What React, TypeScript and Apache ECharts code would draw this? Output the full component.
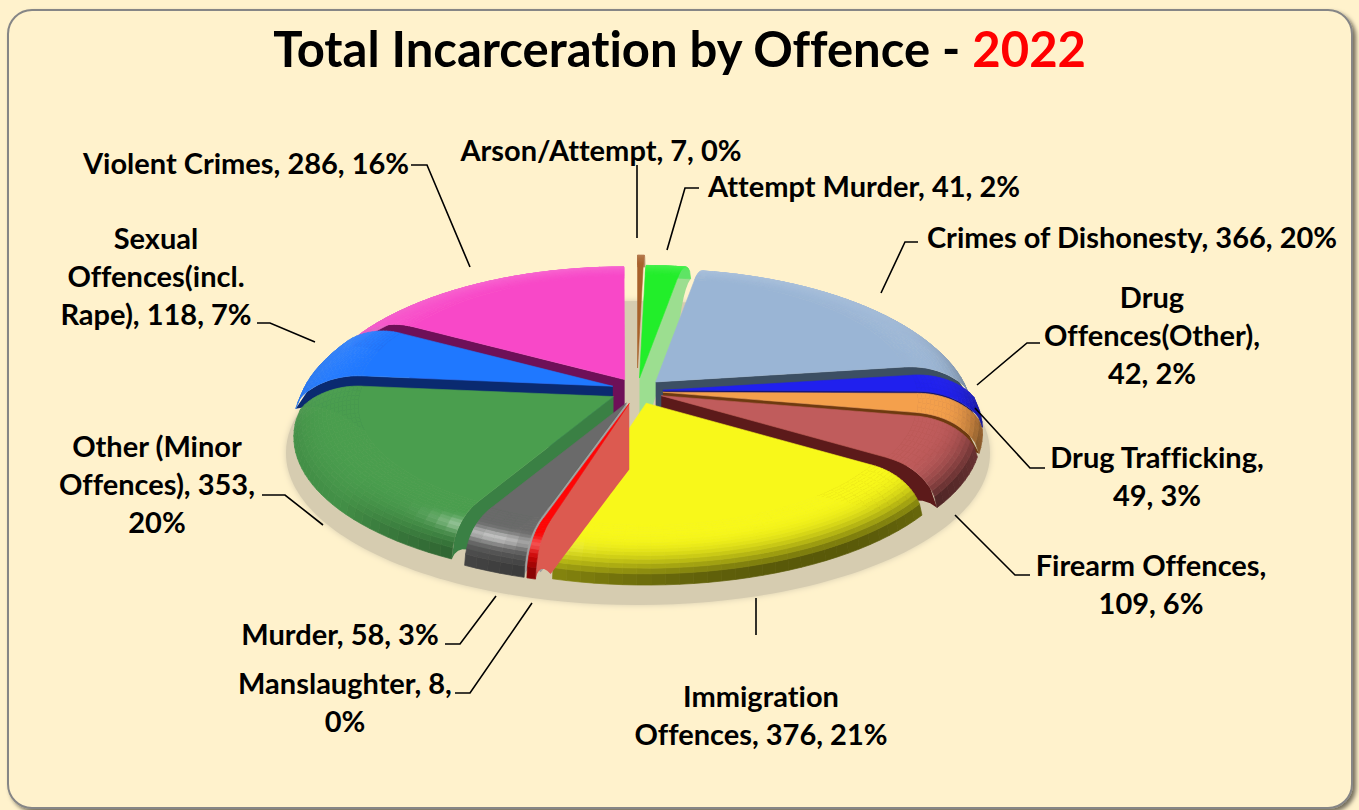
import React, { useEffect, useRef } from "react";
import * as echarts from "echarts";

const categories = ["Arson/Attempt", "Attempt Murder", "Crimes of Dishonesty", "Drug Offences(Other)", "Drug Trafficking", "Firearm Offences", "Immigration Offences", "Manslaughter", "Murder", "Other (Minor Offences)", "Sexual Offences(incl. Rape)", "Violent Crimes"];
const values = [7, 41, 366, 42, 49, 109, 376, 8, 58, 353, 118, 286];
const percents = [0, 2, 20, 2, 3, 6, 21, 0, 3, 20, 7, 16];
const labelBreaks = [
  "Arson/Attempt, 7, 0%",
  "Attempt Murder, 41, 2%",
  "Crimes of Dishonesty, 366, 20%",
  "Drug\nOffences(Other),\n42, 2%",
  "Drug Trafficking,\n49, 3%",
  "Firearm Offences,\n109, 6%",
  "Immigration\nOffences, 376, 21%",
  "Manslaughter, 8,\n0%",
  "Murder, 58, 3%",
  "Other (Minor\nOffences), 353,\n20%",
  "Sexual\nOffences(incl.\nRape), 118, 7%",
  "Violent Crimes, 286, 16%",
];
const topColors = ["#A8622C", "#22EE2A", "#9AB5D5", "#2020EE", "#F4A04C", "#C05C5C", "#F8F81A", "#FF0505", "#6A6A6A", "#4A9E4E", "#1F78FF", "#F848C8"];
const wallColors = ["#8A5024", "#9CDE90", "#3C4F63", "#14146E", "#6E3A10", "#5C1A1A", "#8A8A10", "#DC5A50", "#A0A0A0", "#3A8044", "#0A2A70", "#6E1058"];
const paintOrder = [0, 1, 2, 11, 10, 3, 4, 5, 6, 9, 8, 7];

// layout of the texts and leaders (x, first-line centre y; leader points)
const labelLayout: any[] = [
  { x: 601, y: 149, pts: [[637, 165], [637, 238]] },
  { x: 864, y: 185, pts: [[699, 188], [685, 188], [667, 250]] },
  { x: 1132, y: 236, pts: [[918, 242], [905, 242], [881, 293]] },
  { x: 1152, y: 296, pts: [[1040, 343], [1027, 343], [977, 385]] },
  { x: 1157, y: 456, pts: [[1045, 468], [1030, 468], [975, 408]] },
  { x: 1151, y: 564, pts: [[1030, 575], [1015, 575], [955, 515]] },
  { x: 761, y: 695, pts: [[756, 635], [756, 598]] },
  { x: 345, y: 682, pts: [[455, 693], [470, 693], [532, 603]] },
  { x: 340, y: 633, pts: [[445, 644], [460, 644], [496, 596]] },
  { x: 157, y: 445, pts: [[262, 495], [285, 495], [323, 525]] },
  { x: 156, y: 237, pts: [[257, 323], [270, 323], [315, 342]] },
  { x: 246, y: 162, pts: [[411, 165], [427, 165], [470, 267]] },
];

const CX = 637, CY = 417, RX = 318, RY = 140, PERSP = 0.102, H = 26, BEVEL = 0.8, EXPLODE = 26, RIM_BEND = 4;
const total = values.reduce((a, b) => a + b, 0);
const rad = (d: number) => (d * Math.PI) / 180;

function hex(c: string) {
  return [parseInt(c.slice(1, 3), 16), parseInt(c.slice(3, 5), 16), parseInt(c.slice(5, 7), 16)];
}
function shade(c: string, dark: number, light: number) {
  const d = Math.max(0, Math.min(1, dark));
  const l = Math.max(0, Math.min(1, light));
  const a = hex(c).map((v) => v * (1 - d)).map((v) => v + (255 - v) * l);
  return `rgb(${a.map((v) => Math.round(v)).join(",")})`;
}
function heightTop(r: number) {
  if (r <= BEVEL) return H;
  const t = (r - BEVEL) / (1 - BEVEL);
  return H * Math.sqrt(Math.max(0, 1 - t * t));
}
function heightBottom(r: number) {
  if (r <= BEVEL) return -40 + 15 * r;
  const t = (1 - r) / (1 - BEVEL);
  return -28 * t * t;
}
// the drawn pie is turned a little on its left side, and its cut edges bend to the front at the rim
function warp(deg: number, r: number) {
  const t = r <= BEVEL ? 0 : Math.pow((r - BEVEL) / (1 - BEVEL), 2);
  return deg - 4.5 * Math.exp(-Math.pow((deg - 285) / 40, 2)) + RIM_BEND * t * Math.sin(rad(deg));
}

function point(deg: number, r: number, h: number, mid: number, e: number) {
  const w = warp(deg, r);
  const X = Math.sin(rad(w)), Y = Math.cos(rad(w));
  const s = 1 / (1 + PERSP * Y * r);
  return [
    CX + RX * r * X * s + e * Math.sin(rad(mid)),
    CY - RY * r * Y * s - h - 0.5 * e * Math.cos(rad(mid)),
  ];
}

function sliceChildren(index: number, value: number) {
  let start = 0;
  for (let i = 0; i < index; i++) start += (values[i] / total) * 360;
  const span = (value / total) * 360;
  const end = start + span;
  const mid = start + span / 2;
  const e = span < 1.45 ? 46 : EXPLODE;
  const base = topColors[index];
  const children: any[] = [];

  // cut wall facing the viewer
  const wallDeg = mid < 150 ? (span > 2 ? end : -1) : mid < 190 ? -1 : start;
  if (wallDeg >= 0) {
    const up: number[][] = [], down: number[][] = [];
    for (let k = 0; k <= 30; k++) {
      const r = k / 30;
      up.push(point(wallDeg, r, heightTop(r), mid, e));
      down.unshift(point(wallDeg, r, heightBottom(r), mid, e));
    }
    children.push({ type: "polygon", shape: { points: up.concat(down) }, style: { fill: wallColors[index] } });
  }

  // rounded outer edge, from the rim inward
  const bands = 16;
  const steps = Math.max(1, Math.ceil(span / 2.5));
  for (let j = bands - 1; j >= 0; j--) {
    const r0 = BEVEL + ((1 - BEVEL) * j) / bands;
    const r1 = BEVEL + ((1 - BEVEL) * (j + 1)) / bands;
    const phi = (j + 0.5) / bands;
    for (let s = 0; s < steps; s++) {
      const d0 = start + (span * s) / steps;
      const d1 = start + (span * (s + 1)) / steps;
      const dm = (d0 + d1) / 2;
      const front = -Math.cos(rad(dm));
      const right = Math.sin(rad(dm));
      const dark = Math.pow(phi, 4) * (0.1 + 0.72 * Math.max(0, front * 0.75 + right * 0.45));
      const light = phi * 0.3 * Math.max(0, Math.cos(rad(dm)));
      const spec = 0.6 * Math.exp(-Math.pow((dm - 205) / 9, 2)) * Math.exp(-Math.pow((phi - 0.6) / 0.13, 2));
      const col = shade(base, dark, light + spec);
      children.push({
        type: "polygon",
        shape: {
          points: [
            point(d0, r0, heightTop(r0), mid, e),
            point(d0, r1, heightTop(r1), mid, e),
            point(d1, r1, heightTop(r1), mid, e),
            point(d1, r0, heightTop(r0), mid, e),
          ],
        },
        style: { fill: col, stroke: col, lineWidth: 0.7 },
      });
    }
  }

  // flat top
  const flat: number[][] = [point(mid, 0, H, mid, e)];
  for (let s = 0; s <= steps; s++) {
    flat.push(point(start + (span * s) / steps, BEVEL, H, mid, e));
  }
  children.push({ type: "polygon", shape: { points: flat }, style: { fill: base, stroke: base, lineWidth: 0.6 } });
  return children;
}

export default function App() {
  const ref = useRef<HTMLDivElement>(null);
  useEffect(() => {
    document.body.style.margin = "0";
    const chart = echarts.init(ref.current!, null, { renderer: "svg" });
    const font = "Lato, sans-serif";
    const graphics: any[] = [
      {
        type: "rect",
        z: 0,
        silent: true,
        shape: { x: 8, y: 10, width: 1344, height: 798, r: 24 },
        style: { fill: "#FFF2CC", stroke: "#868686", lineWidth: 2, shadowColor: "rgba(0,0,0,0.55)", shadowBlur: 4, shadowOffsetX: 3, shadowOffsetY: 3 },
      },
      {
        type: "ellipse",
        z: 1,
        silent: true,
        shape: { cx: 638, cy: 453, rx: 352, ry: 152 },
        style: { fill: "#D6CCB0", shadowColor: "#D6CCB0", shadowBlur: 6 },
      },
    ];
    labelLayout.forEach((l, i) => {
      graphics.push({
        type: "polyline",
        z: 10,
        silent: true,
        shape: { points: l.pts },
        style: { fill: "none", stroke: "#000", lineWidth: 1.6 },
      });
      graphics.push({
        type: "text",
        z: 11,
        silent: true,
        x: l.x,
        y: l.y - 19,
        style: {
          text: labelBreaks[i],
          fontFamily: font,
          fontSize: 29,
          fontWeight: 700,
          lineHeight: 38,
          align: "center",
          verticalAlign: "top",
          fill: "#000",
        },
      });
    });
    chart.setOption({
      animation: false,
      backgroundColor: "#FFF2CC",
      title: {
        text: "{a|Total Incarceration by Offence - }{b|2022}",
        left: "center",
        top: 18,
        textStyle: {
          rich: {
            a: { fontFamily: font, fontSize: 49, fontWeight: 700, color: "#000" },
            b: { fontFamily: font, fontSize: 49, fontWeight: 700, color: "#FF0000" },
          },
        },
      },
      tooltip: { show: false },
      graphic: graphics,
      series: [
        {
          type: "custom",
          coordinateSystem: "none",
          silent: true,
          z: 5,
          name: "Total Incarceration",
          dimensions: ["index", "value"],
          data: paintOrder.map((i) => ({ name: categories[i], value: [i, values[i], percents[i]] })),
          renderItem: (_p: any, api: any) => ({
            type: "group",
            children: sliceChildren(api.value(0), api.value(1)),
          }),
        },
      ],
    });
    return () => chart.dispose();
  }, []);
  return <div ref={ref} style={{ position: "fixed", left: 0, top: 0, width: 1359, height: 810, fontVariantLigatures: "none" }} />;
}
